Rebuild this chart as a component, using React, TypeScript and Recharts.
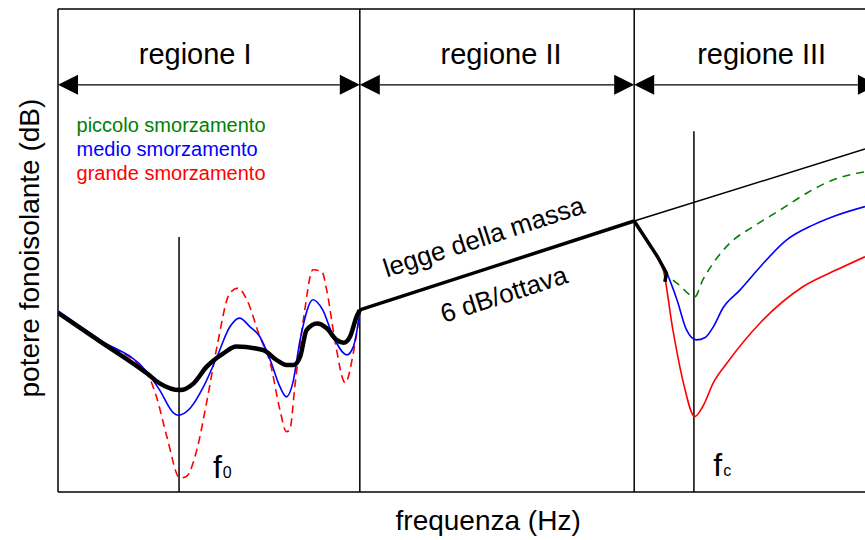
import { ComposedChart, Line, XAxis, YAxis, ReferenceLine, ReferenceDot } from "recharts";

const FONT = '"Liberation Sans", Arial, sans-serif';

// frequenza in unità arbitrarie (0..100), livello in unità arbitrarie (0..100)

// regione I: risonanza massa-molla
const blackIFreq = [0, 5.2, 11.0, 12.6, 15.1, 16.8, 18.4, 20.5, 22.1, 25.4, 27.1, 28.3, 29.2, 30.0, 30.8, 32.1, 33.3, 34.5, 35.4, 36.2, 37.0, 37.4];
const blackILevel = [37.1, 31.2, 24.6, 22.5, 21.1, 22.5, 25.9, 28.7, 30.1, 29.4, 27.3, 26.3, 26.3, 28.0, 33.5, 34.9, 33.9, 31.5, 30.9, 32.2, 36.3, 37.7];

const blueIFreq = [0, 5.2, 11.0, 12.6, 14.3, 14.9, 16.4, 18.0, 19.7, 21.3, 22.5, 23.8, 25.0, 26.3, 27.5, 28.3, 29.1, 30.0, 31.6, 32.8, 34.1, 35.8, 36.6, 37.4];
const blueILevel = [37.5, 31.5, 24.9, 21.1, 16.4, 15.9, 17.4, 21.7, 28.0, 34.2, 36.0, 34.2, 32.2, 27.3, 21.8, 19.7, 22.6, 31.5, 39.8, 37.7, 32.2, 28.4, 30.1, 37.1];

const redIFreq = [0, 5.2, 11.0, 12.2, 13.5, 15.1, 15.9, 17.2, 18.4, 19.7, 21.3, 22.3, 23.4, 25.0, 26.3, 27.5, 28.3, 28.7, 29.4, 30.4, 31.6, 32.7, 33.3, 34.3, 35.6, 36.6, 37.4];
const redILevel = [36.9, 31.1, 24.6, 19.7, 11.4, 2.9, 3.2, 8.7, 18.4, 30.1, 41.2, 42.2, 39.8, 32.2, 26.7, 17.0, 12.5, 12.8, 22.6, 35.6, 46.0, 45.6, 41.8, 31.5, 22.6, 28.8, 37.1];

// regione II: legge della massa
const massFreq = [37.4, 71.4];
const massLevel = [37.7, 56.1];
const massExtFreq = [71.4, 100];
const massExtLevel = [56.1, 71.0];

// regione III: coincidenza
const blackIIIFreq = [71.4, 74.3, 75.4, 75.2];
const blackIIILevel = [56.1, 48.7, 45.3, 43.5];

const greenIIIFreq = [71.4, 74.3, 75.5, 75.8, 77.1, 78.3, 78.9, 79.9, 81.2, 83.3, 86.1, 89.5, 92.8, 96.0, 100];
const greenIIILevel = [55.9, 48.7, 45.1, 44.5, 42.7, 40.8, 40.4, 43.9, 47.4, 51.6, 54.9, 58.4, 61.9, 64.6, 66.3];

const blueIIIFreq = [71.4, 74.3, 75.5, 76.7, 77.9, 79.1, 80.2, 81.2, 82.4, 84.5, 87.0, 90.3, 93.6, 96.5, 100];
const blueIIILevel = [55.9, 48.7, 45.1, 39.8, 33.5, 31.5, 32.0, 34.2, 38.1, 41.8, 46.6, 52.2, 55.3, 57.3, 59.1];

const redIIIFreq = [71.4, 74.2, 75.0, 76.2, 77.5, 78.9, 79.9, 81.2, 82.9, 87.0, 92.3, 96.5, 100];
const redIIILevel = [55.9, 48.7, 46.0, 33.5, 22.6, 15.6, 17.7, 22.6, 26.7, 35.0, 42.5, 46.0, 48.7];

// limiti delle regioni e frequenze caratteristiche
const regionBounds = [0, 37.4, 71.4, 101.6];
const regionNames = ["regione I", "regione II", "regione III"];
const regionLabelFreq = [17.0, 54.9, 87.2];
const f0 = 15.0;
const fc = 78.8;

const legendItems = ["piccolo smorzamento", "medio smorzamento", "grande smorzamento"];
const legendColors = ["#008000", "#0000ff", "#ff0000"];

const zip = (fs: number[], vs: number[]) => fs.map((f, i) => ({ f, v: vs[i] }));

function Arrow(props: any) {
  const { x1, y1, x2 } = props;
  const l = 20;
  const h = 10;
  return (
    <g>
      <line x1={x1 + l} y1={y1} x2={x2 - l} y2={y1} stroke="#000" strokeWidth={1.4} />
      <polygon points={`${x1},${y1} ${x1 + l},${y1 - h} ${x1 + l},${y1 + h}`} fill="#000" />
      <polygon points={`${x2},${y1} ${x2 - l},${y1 - h} ${x2 - l},${y1 + h}`} fill="#000" />
    </g>
  );
}

function note(content: (cx: number, cy: number) => any) {
  return (p: any) => content(p.cx, p.cy);
}

export default function App() {
  const line = (data: any[], color: string, width: number, dash?: string, type: any = "monotone") => (
    <Line
      data={data}
      dataKey="v"
      type={type}
      stroke={color}
      strokeWidth={width}
      strokeDasharray={dash}
      dot={false}
      activeDot={false}
      isAnimationActive={false}
    />
  );

  return (
    <>
      <style>{`body { margin: 0; overflow: hidden; }`}</style>
      <ComposedChart width={865} height={540} margin={{ top: 9, right: 0, bottom: 48, left: 58 }}>
        <XAxis type="number" dataKey="f" domain={[0, 100]} hide allowDataOverflow />
        <YAxis type="number" domain={[0, 100]} hide allowDataOverflow />

        {/* cornice */}
        <ReferenceLine x={0} stroke="#000" strokeWidth={1.5} />
        <ReferenceLine y={0} stroke="#000" strokeWidth={1.5} />
        <ReferenceLine y={100} stroke="#000" strokeWidth={1.5} />
        <ReferenceLine x={regionBounds[1]} stroke="#000" strokeWidth={1.5} />
        <ReferenceLine x={regionBounds[2]} stroke="#000" strokeWidth={1.5} />
        <ReferenceLine segment={[{ x: f0, y: 0 }, { x: f0, y: 52.8 }]} stroke="#000" strokeWidth={1.5} />
        <ReferenceLine segment={[{ x: fc, y: 0 }, { x: fc, y: 74.7 }]} stroke="#000" strokeWidth={1.5} />

        {regionNames.map((name, i) => (
          <ReferenceLine
            key={name}
            segment={[{ x: regionBounds[i], y: 84.3 }, { x: regionBounds[i + 1], y: 84.3 }]}
            ifOverflow="visible"
            shape={(p: any) => <Arrow {...p} />}
          />
        ))}
        {regionNames.map((name, i) => (
          <ReferenceDot
            key={"t" + name}
            x={regionLabelFreq[i]}
            y={88.6}
            r={0}
            ifOverflow="visible"
            shape={note((cx, cy) => (
              <text x={cx} y={cy} textAnchor="middle" fontFamily={FONT} fontSize={29} fill="#000">
                {name}
              </text>
            ))}
          />
        ))}

        {legendItems.map((name, i) => (
          <ReferenceDot
            key={name}
            x={2.3}
            y={[74.6, 69.5, 64.6][i]}
            r={0}
            ifOverflow="visible"
            shape={note((cx, cy) => (
              <text x={cx} y={cy} fontFamily={FONT} fontSize={20} fill={legendColors[i]}>
                {name}
              </text>
            ))}
          />
        ))}

        {line(zip(redIFreq, redILevel), "#ff0000", 1.6, "8 5")}
        {line(zip(blueIFreq, blueILevel), "#0000ff", 1.6)}
        {line(zip(blackIFreq, blackILevel), "#000", 4.5)}

        {line(zip(massFreq, massLevel), "#000", 3.5, undefined, "linear")}
        {line(zip(massExtFreq, massExtLevel), "#000", 1.5, undefined, "linear")}

        {line(zip(redIIIFreq, redIIILevel), "#ff0000", 1.6)}
        {line(zip(blueIIIFreq, blueIIILevel), "#0000ff", 1.6)}
        {line(zip(greenIIIFreq, greenIIILevel), "#008000", 1.6, "8 6")}
        {line(zip(blackIIIFreq, blackIIILevel), "#000", 3.5, undefined, "linear")}

        <ReferenceDot
          x={53.1}
          y={51.1}
          r={0}
          ifOverflow="visible"
          shape={note((cx, cy) => (
            <text x={cx} y={cy} textAnchor="middle" transform={`rotate(-18 ${cx} ${cy})`} fontFamily={FONT} fontSize={26} fill="#000">
              legge della massa
            </text>
          ))}
        />
        <ReferenceDot
          x={55.6}
          y={39.2}
          r={0}
          ifOverflow="visible"
          shape={note((cx, cy) => (
            <text x={cx} y={cy} textAnchor="middle" transform={`rotate(-18 ${cx} ${cy})`} fontFamily={FONT} fontSize={26} fill="#000">
              6 dB/ottava
            </text>
          ))}
        />

        <ReferenceDot
          x={19.2}
          y={3.0}
          r={0}
          ifOverflow="visible"
          shape={note((cx, cy) => (
            <text x={cx} y={cy} fontFamily={FONT} fontSize={32} fill="#000">
              f<tspan fontSize={16} dx={1}>0</tspan>
            </text>
          ))}
        />
        <ReferenceDot
          x={81.2}
          y={3.3}
          r={0}
          ifOverflow="visible"
          shape={note((cx, cy) => (
            <text x={cx} y={cy} fontFamily={FONT} fontSize={32} fill="#000">
              f<tspan fontSize={16} dx={1}>c</tspan>
            </text>
          ))}
        />

        <ReferenceDot
          x={-2.4}
          y={50.5}
          r={0}
          ifOverflow="visible"
          shape={note((cx, cy) => (
            <text x={cx} y={cy} textAnchor="middle" transform={`rotate(-90 ${cx} ${cy})`} fontFamily={FONT} fontSize={28} fill="#000">
              potere fonoisolante (dB)
            </text>
          ))}
        />
        <ReferenceDot
          x={53.3}
          y={-7.9}
          r={0}
          ifOverflow="visible"
          shape={note((cx, cy) => (
            <text x={cx} y={cy} textAnchor="middle" fontFamily={FONT} fontSize={28} fill="#000">
              frequenza (Hz)
            </text>
          ))}
        />
      </ComposedChart>
    </>
  );
}
